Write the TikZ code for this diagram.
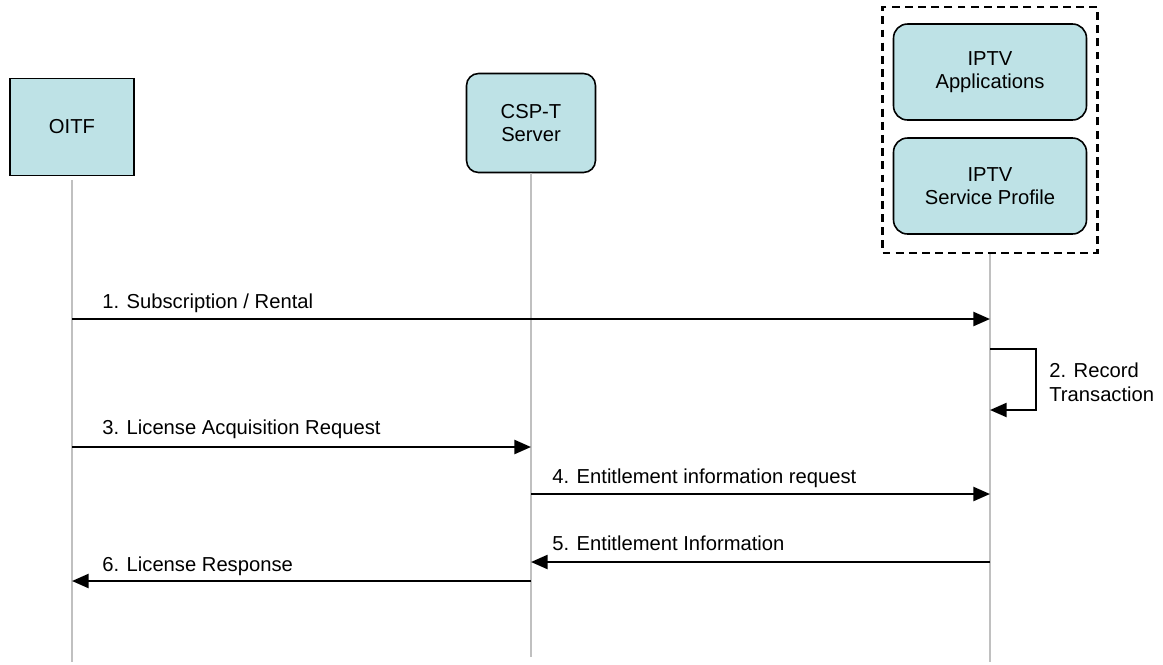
\documentclass[tikz,border=0pt]{standalone}
\usepackage{fontspec}
\setmainfont{Liberation Sans}
\usetikzlibrary{arrows.meta,positioning}

\definecolor{boxfill}{RGB}{190,226,230}
\definecolor{lifegray}{RGB}{192,192,192}

\tikzset{
  txt/.style={font=\fontsize{11.5}{13.5}\selectfont},
  entity/.style={txt, draw, line width=0.9pt, fill=boxfill, align=center, inner sep=0pt},
  lbl/.style={txt, inner sep=0pt},
  life/.style={draw=lifegray, line width=1.1pt},
  msg/.style={line width=1.3pt, -{Triangle[length=9.5pt,width=8pt]}}
}

\begin{document}
\begin{tikzpicture}[x=0.02cm, y=-0.02cm]
    \useasboundingbox (0,0) rectangle (1163,664);

    % Teilnehmer
    \node[entity, minimum width=2.48cm, minimum height=1.94cm] (oitf) at (72,127) {OITF};
    \node[entity, rounded corners=0.24cm, minimum width=2.58cm, minimum height=1.98cm] (csp) at (531,123) {CSP-T\\Server};
    \node[entity, rounded corners=0.28cm, minimum width=3.86cm, minimum height=1.92cm] (app) at (990,72) {IPTV\\Applications};
    \node[entity, rounded corners=0.28cm, minimum width=3.86cm, minimum height=1.92cm] (prof) at (990,186) {IPTV\\Service Profile};
    \node[draw, line width=1.2pt, dash pattern=on 4.5pt off 3pt, minimum width=4.3cm, minimum height=4.92cm] (iptv) at (990,130) {};

    % Lebenslinien
    \coordinate (oitf-end) at (72,662);
    \coordinate (csp-end) at (531,657);
    \coordinate (iptv-end) at (990,662);
    \draw[life] ([yshift=-2pt]oitf.south) -- (oitf-end);
    \draw[life] (csp.south) -- (csp-end);
    \draw[life] (iptv.south) -- (iptv-end);

    % Nachrichten
    \draw[msg] (oitf-end |- 0,319) -- (iptv-end |- 0,319);
    \node[lbl, anchor=base west] (m1) at (102,308) {1. Subscription / Rental};

    \draw[msg] (iptv-end |- 0,349) -- ++(46,0) |- (iptv-end |- 0,410);
    \node[lbl, anchor=west, align=left] (m2) at (1049,382) {2. Record\\Transaction};

    \draw[msg] (oitf-end |- 0,447) -- (csp-end |- 0,447);
    \node[lbl, anchor=base west] (m3) at (102,434) {3. License Acquisition Request};

    \draw[msg] (csp-end |- 0,494) -- (iptv-end |- 0,494);
    \node[lbl, anchor=base west] (m4) at (552,483) {4. Entitlement information request};

    \draw[msg] (iptv-end |- 0,562) -- (csp-end |- 0,562);
    \node[lbl, anchor=base west] (m5) at (552,550) {5. Entitlement Information};

    \draw[msg] (csp-end |- 0,581) -- (oitf-end |- 0,581);
    \node[lbl, anchor=base west] (m6) at (102,571) {6. License Response};
\end{tikzpicture}
\end{document}
